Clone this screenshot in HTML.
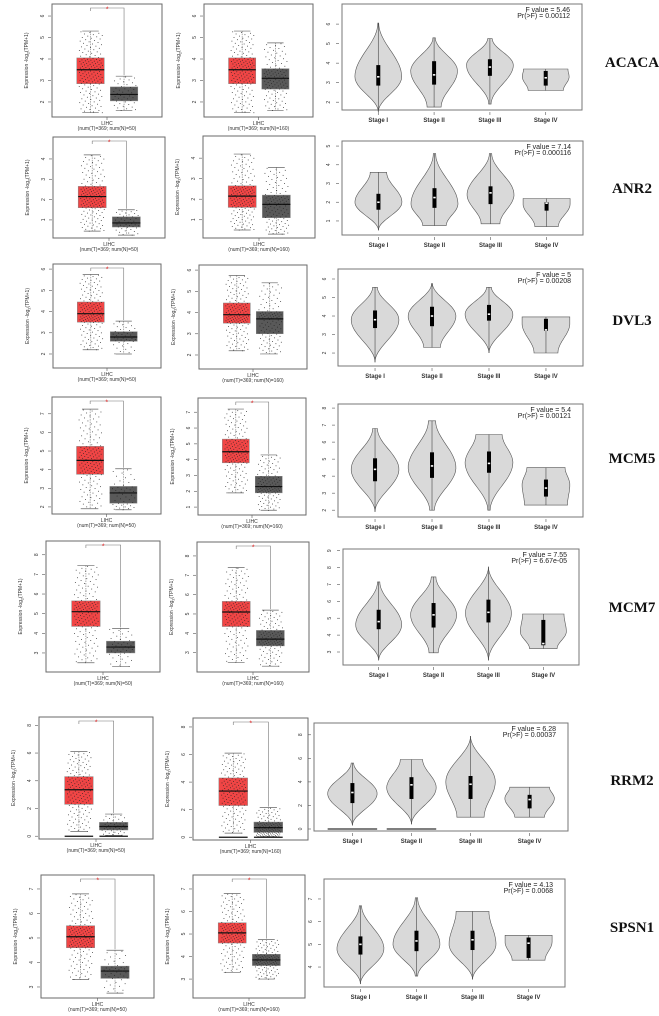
<!DOCTYPE html>
<html><head><meta charset="utf-8">
<style>
html,body{margin:0;padding:0;background:#fff;}
svg{display:block;font-family:"Liberation Sans",sans-serif;}
.gene{font-family:"Liberation Serif",serif;font-weight:bold;font-size:15px;}
</style></head>
<body>
<svg id="fig" width="659" height="1016" viewBox="0 0 659 1016" xmlns="http://www.w3.org/2000/svg"></svg>
<script>
// ---- data ----
const genes = ["ACACA","ANR2","DVL3","MCM5","MCM7","RRM2","SPSN1"];
const stages = ["Stage I","Stage II","Stage III","Stage IV"];
const fValues = ["5.46","7.14","5","5.4","7.55","6.28","4.13"];
const pValues = ["0.00112","0.000116","0.00208","0.00121","6.67e-05","0.00037","0.0068"];
const normalCounts = [50,160];
// tumor boxes [lowWhisker,q1,median,q3,highWhisker] per row, panel1 & panel2
const tumorP1 = [[1.5,2.85,3.5,4.05,5.3],[0.45,1.6,2.15,2.65,4.2],[2.2,3.5,3.9,4.45,5.75],[1.9,3.75,4.5,5.25,7.25],[2.5,4.35,5.1,5.65,7.45],[0.35,2.3,3.35,4.3,6.1],[3.3,4.6,5.05,5.5,6.8]];
const normalP1 = [[1.6,2.05,2.35,2.7,3.2],[0.25,0.65,0.85,1.15,1.5],[2.0,2.6,2.8,3.05,3.55],[1.85,2.2,2.75,3.1,4.05],[2.3,3.0,3.3,3.6,4.25],[0.05,0.45,0.7,1.0,1.6],[2.75,3.35,3.65,3.85,4.5]];
const tumorP2 = [[1.5,2.85,3.5,4.05,5.3],[0.5,1.6,2.15,2.65,4.2],[2.2,3.5,3.9,4.45,5.75],[1.9,3.8,4.5,5.3,7.2],[2.5,4.35,5.1,5.65,7.4],[0.3,2.3,3.35,4.3,6.1],[3.3,4.6,5.05,5.5,6.8]];
const normalP2 = [[1.6,2.6,3.1,3.55,4.75],[0.3,1.1,1.75,2.2,3.55],[2.05,3.0,3.7,4.05,5.4],[0.8,1.9,2.3,2.95,4.3],[2.3,3.35,3.7,4.15,5.2],[0.05,0.35,0.7,1.1,2.15],[3.0,3.6,3.85,4.1,4.75]];
const sigP1 = [1,1,1,1,1,1,1];
const sigP2 = [0,0,0,1,1,1,1];
const zeroLine = [0,0,0,0,0,1,0];
// y-axis limits & ticks
const limP1 = [[1.3,6.56],[0.11,5.08],[1.34,6.24],[1.62,7.9],[2.03,8.7],[-0.2,8.6],[2.55,7.57]];
const limP2 = [[1.3,6.56],[0.11,5.08],[1.34,6.24],[0.5,7.9],[2.0,8.72],[-0.2,8.65],[2.16,7.62]];
const ticksP1 = [[2,3,4,5,6],[1,2,3,4],[2,3,4,5,6],[2,3,4,5,6,7],[3,4,5,6,7,8],[0,2,4,6,8],[3,4,5,6,7]];
const ticksP2 = [[2,3,4,5,6],[1,2,3,4],[2,3,4,5,6],[1,2,3,4,5,6,7],[3,4,5,6,7,8],[0,2,4,6,8],[3,4,5,6,7]];
const limV = [[1.6,7.03],[0.25,5.27],[1.3,6.54],[1.6,8.24],[2.23,9.1],[-0.17,9.0],[3.12,7.88]];
const ticksV = [[2,3,4,5,6],[1,2,3,4,5],[2,3,4,5,6],[2,3,4,5,6,7,8],[3,4,5,6,7,8,9],[0,2,4,6,8],[4,5,6,7]];
// violins per row: stages x [min,max,peak,lowEndWidth,highEndWidth,q1,median,q3]
const violins = [
 [[1.5,6.05,3.3,0,0.02,2.85,3.3,3.9],[1.75,5.3,3.6,0.3,0.05,2.9,3.4,4.1],[1.9,5.25,3.9,0.05,0.1,3.35,3.8,4.2],[2.6,3.7,3.3,0.75,0.95,2.85,3.25,3.6]],
 [[0.5,3.6,2.0,0,0.35,1.6,2.0,2.45],[0.75,4.6,1.9,0.5,0.05,1.7,2.25,2.75],[0.85,4.6,2.4,0.4,0.05,1.9,2.5,2.85],[0.7,2.2,1.9,0.5,1.0,1.55,1.95,2.0]],
 [[1.5,5.55,3.8,0,0.1,3.35,3.8,4.3],[2.3,5.75,4.0,0.35,0.02,3.45,4.0,4.5],[2.0,5.55,4.1,0,0.1,3.75,4.1,4.6],[2.0,3.95,3.6,0.5,1.0,3.2,3.25,3.85]],
 [[1.9,6.8,4.4,0,0.1,3.7,4.4,5.05],[2.0,7.25,4.5,0.1,0.15,3.9,4.6,5.4],[2.0,6.45,4.8,0.05,0.55,4.2,4.75,5.45],[2.3,4.5,3.5,0.9,0.8,2.8,3.3,3.8]],
 [[2.5,7.15,4.6,0,0.05,4.35,4.8,5.5],[2.95,7.45,5.2,0.2,0.1,4.45,5.2,5.9],[2.5,8.05,5.3,0,0,4.75,5.35,6.1],[3.2,5.25,4.2,0.6,0.9,3.4,3.5,4.9]],
 [[0.3,5.6,3.0,0,0.05,2.2,3.1,3.9],[0.4,5.9,3.5,0,0.45,2.55,3.75,4.4],[1.0,7.9,4.0,0.55,0,2.55,3.8,4.5],[1.0,3.55,2.6,0.6,0.8,1.75,2.5,2.9]],
 [[3.25,6.7,4.8,0,0.05,4.55,5.0,5.35],[3.6,7.05,5.0,0.05,0.05,4.7,5.15,5.6],[3.45,6.45,5.0,0,0.7,4.75,5.2,5.6],[4.3,5.4,5.1,0.7,1.0,4.4,5.05,5.3]]
];
// ---- layout (pixel frames) ----
const frameP1 = [[52,4,110,113],[53,137,112,101],[53,264,108,104],[52,397,109,117],[46,541,114,131],[39,717,114,122],[41,875,113,123]];
const frameP2 = [[204,4,109,113],[203,136,112,102],[199,265,108,104],[198,398,108,117],[197,542,112,130],[193,718,115,122],[193,875,112,123]];
const frameV = [[342,4,240,106],[342,141,241,94],[338,269,245,97],[338,404,245,113],[343,549,236,116],[314,723,254,108],[324,879,241,108]];
const geneY = [62,188,320,458,607,780,927];

const NS="http://www.w3.org/2000/svg";
const svg=document.getElementById('fig');
function mk(tag,attrs,parent){const e=document.createElementNS(NS,tag);for(const k in attrs)e.setAttribute(k,attrs[k]);(parent||svg).appendChild(e);return e;}
function txt(s,attrs,parent){const e=mk('text',attrs,parent);e.textContent=s;return e;}
function scaleY(lim,fr){return v=>fr[1]+fr[3]*(lim[1]-v)/(lim[1]-lim[0]);}
function quant(b,p){const ps=[0,.25,.5,.75,1];for(let i=0;i<4;i++){if(p<=ps[i+1]){const t=(p-ps[i])/.25;return b[i]+(b[i+1]-b[i])*t;}}return b[4];}

function boxPanel(r,which,fr,lim,ticks,tum,nor,sig,nN){
  const g=mk('g',{});
  
  
  const y=scaleY(lim,fr);
  const [x0,y0,w,h]=fr;
  const fm=mk('rect',{x:x0,y:y0,width:w,height:h,fill:'#fff',stroke:'#6a6a6a','stroke-width':1},g);
  
  
  ticks.forEach(t=>{
    const ty=y(t);
    mk('line',{x1:x0-4,x2:x0-1,y1:ty,y2:ty,stroke:'#555','stroke-width':0.6},g);
    const tl=txt(String(t),{x:x0-8,y:ty,'font-size':5,fill:'#333','text-anchor':'middle',transform:`rotate(-90 ${x0-8} ${ty})`},g);
    
    
  });
  const ly=y0+h/2, lx=x0-24;
  const yl=txt('Expression -log',{x:lx,y:ly,'font-size':5,fill:'#333','text-anchor':'middle',transform:`rotate(-90 ${lx} ${ly})`},g);
  
  
  const ts=mk('tspan',{'font-size':3.5,dy:1.5},yl);ts.textContent='2';
  const ts2=mk('tspan',{dy:-1.5},yl);ts2.textContent='(TPM+1)';
  const bw=w*0.25;
  const groups=[[tum,x0+w*0.35,'#f04545','tumor-box'],[nor,x0+w*0.655,'#595959','normal-box']];
  groups.forEach(([b,cx,col,name],gi)=>{
    // whiskers
    mk('line',{x1:cx,x2:cx,y1:y(b[4]),y2:y(b[0]),stroke:'#777','stroke-width':0.6,'stroke-dasharray':'1.5 1'},g);
    [b[0],b[4]].forEach(v=>mk('line',{x1:cx-bw*0.3,x2:cx+bw*0.3,y1:y(v),y2:y(v),stroke:'#666','stroke-width':0.7},g));
    const bx=mk('rect',{x:cx-bw/2,y:y(b[3]),width:bw,height:y(b[1])-y(b[3]),fill:col,stroke:'#888','stroke-width':0.5},g);
    
    
    mk('line',{x1:cx-bw/2,x2:cx+bw/2,y1:y(b[2]),y2:y(b[2]),stroke:'#111','stroke-width':1.2},g);
    const n=gi===0?150:(nN===50?45:110);
    let acc=0.37*(gi+1+r);
    for(let k=0;k<n;k++){
      const v=quant(b,(k+0.5)/n);
      acc=(acc+0.6180339)%1;
      const jx=cx+(acc-0.5)*bw*0.85;
      mk('rect',{x:jx,y:y(v),width:0.8,height:0.8,fill:'#222'},g);
    }
  });
  if(zeroLine[r]){
    mk('line',{x1:groups[0][1]-bw/2,x2:groups[0][1]+bw/2,y1:y(0),y2:y(0),stroke:'#111','stroke-width':1.3},g);
    mk('line',{x1:groups[1][1]-bw/2,x2:groups[1][1]+bw/2,y1:y(0),y2:y(0),stroke:'#111','stroke-width':1.3},g);
  }
  if(sig){
    const by=y0+4, tx=groups[0][1], nx=groups[1][1];
    const br=mk('path',{d:`M${tx},${by+3}V${by}H${nx}V${y(nor[4])-1}`,fill:'none',stroke:'#777','stroke-width':0.6},g);
    
    
    txt('*',{x:(tx+nx)/2,y:by+3.5,'font-size':7,fill:'#e02020','text-anchor':'middle'},g);
  }
  const cx=x0+w/2;
  mk('line',{x1:cx,x2:cx,y1:y0+h,y2:y0+h+3,stroke:'#555','stroke-width':0.6},g);
  const l1=txt('LIHC',{x:cx,y:y0+h+8,'font-size':5,fill:'#333','text-anchor':'middle'},g);
  
  
  const l2=txt(`(num(T)=369; num(N)=${nN})`,{x:cx,y:y0+h+13,'font-size':5,fill:'#333','text-anchor':'middle'},g);
  
  
}

function violinPanel(r){
  const fr=frameV[r], lim=limV[r];
  const g=mk('g',{});
  
  
  const y=scaleY(lim,fr);
  const [x0,y0,w,h]=fr;
  const fm=mk('rect',{x:x0,y:y0,width:w,height:h,fill:'#fff',stroke:'#777','stroke-width':1},g);
  
  
  ticksV[r].forEach(t=>{
    const ty=y(t);
    mk('line',{x1:x0-6,x2:x0-3,y1:ty,y2:ty,stroke:'#555','stroke-width':0.6},g);
    const tl=txt(String(t),{x:x0-12,y:ty,'font-size':5,fill:'#333','text-anchor':'middle',transform:`rotate(-90 ${x0-12} ${ty})`},g);
    
    
  });
  const sp=w*0.232, hw=sp*0.42;
  violins[r].forEach((d,i)=>{
    const [mn,mx,pk,lw,hwE,q1,md,q3]=d;
    const cx=x0+w*((i+0.65)/4.3);
    const N=30, right=[];
    for(let k=0;k<=N;k++){
      const v=mn+(mx-mn)*k/N;
      let f;
      if(v<=pk){const t=(v-mn)/Math.max(pk-mn,1e-6);f=lw+(1-lw)*(0.5-0.5*Math.cos(Math.PI*t));}
      else{const t=(mx-v)/Math.max(mx-pk,1e-6);f=hwE+(1-hwE)*(0.5-0.5*Math.cos(Math.PI*t));}
      right.push([cx+hw*f,y(v)]);
    }
    let dpath='M'+right.map(p=>p[0].toFixed(1)+','+p[1].toFixed(1)).join('L');
    for(let k=N;k>=0;k--){dpath+='L'+(2*cx-right[k][0]).toFixed(1)+','+right[k][1].toFixed(1);}
    dpath+='Z';
    const vp=mk('path',{d:dpath,fill:'#d9d9d9',stroke:'#555','stroke-width':0.6},g);
    
    
    mk('line',{x1:cx,x2:cx,y1:y(mx),y2:y(mn),stroke:'#444','stroke-width':0.6},g);
    mk('rect',{x:cx-2,y:y(q3),width:4,height:y(q1)-y(q3),fill:'#000'},g);
    mk('rect',{x:cx-1.2,y:y(md)-0.8,width:2.4,height:1.6,fill:'#fff'},g);
    if(zeroLine[r]&&i<2){mk('line',{x1:cx-hw,x2:cx+hw,y1:y(0),y2:y(0),stroke:'#333','stroke-width':1.2},g);}
    mk('line',{x1:cx,x2:cx,y1:y0+h+2,y2:y0+h+5,stroke:'#555','stroke-width':0.6},g);
    const sl=txt(stages[i],{x:cx,y:y0+h+12,'font-size':6,'font-weight':'bold',fill:'#333','text-anchor':'middle'},g);
    
    
  });
  const f1=txt('F value = '+fValues[r],{x:x0+w-12,y:y0+8,'font-size':7,fill:'#222','text-anchor':'end'},g);
  
  
  const f2=txt('Pr(>F) = '+pValues[r],{x:x0+w-12,y:y0+14,'font-size':7,fill:'#222','text-anchor':'end'},g);
  
  
}

for(let r=0;r<genes.length;r++){
  boxPanel(r,'n50',frameP1[r],limP1[r],ticksP1[r],tumorP1[r],normalP1[r],sigP1[r],normalCounts[0]);
  boxPanel(r,'n160',frameP2[r],limP2[r],ticksP2[r],tumorP2[r],normalP2[r],sigP2[r],normalCounts[1]);
  violinPanel(r);
  const gl=txt(genes[r],{x:632,y:geneY[r]+5,'text-anchor':'middle',class:'gene',fill:'#111'});
  
  
}
</script>
</body></html>
